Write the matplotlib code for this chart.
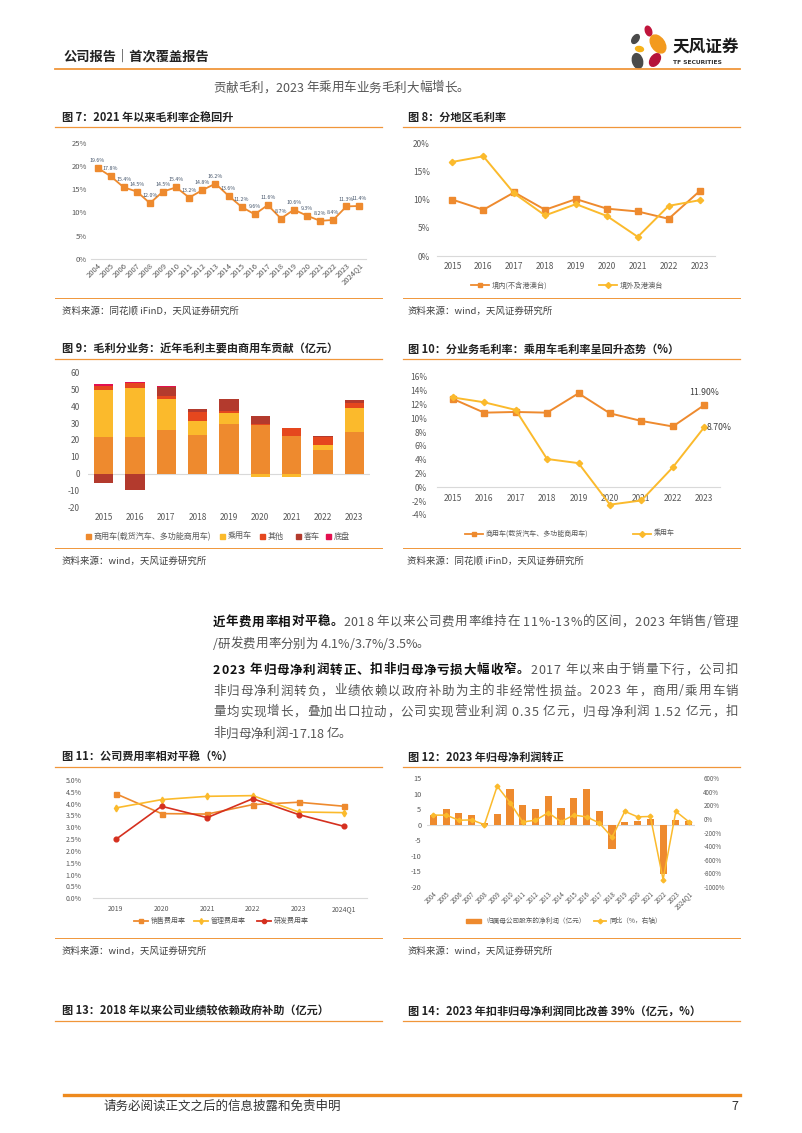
import matplotlib
matplotlib.use('Agg')
import matplotlib.pyplot as plt
import numpy as np
from matplotlib.lines import Line2D
from matplotlib.patches import Ellipse, Rectangle

plt.rcParams['font.family'] = ['Noto Sans CJK SC', 'DejaVu Sans']
plt.rcParams['axes.unicode_minus'] = False

# ---------------- data ----------------
f7_years = ['2004', '2005', '2006', '2007', '2008', '2009', '2010', '2011', '2012', '2013', '2014',
            '2015', '2016', '2017', '2018', '2019', '2020', '2021', '2022', '2023', '2024Q1']
f7_margin = [19.6, 17.8, 15.4, 14.5, 12.0, 14.5, 15.4, 13.2, 14.8, 16.2, 13.6,
             11.2, 9.6, 11.6, 8.7, 10.6, 9.3, 8.2, 8.4, 11.3, 11.4]
f7_yticks = [0, 5, 10, 15, 20, 25]

f8_years = ['2015', '2016', '2017', '2018', '2019', '2020', '2021', '2022', '2023']
f8_domestic = [10.0, 8.2, 11.3, 8.2, 10.1, 8.4, 7.9, 6.6, 11.5]
f8_overseas = [16.7, 17.7, 11.1, 7.2, 9.2, 7.1, 3.4, 8.9, 9.9]
f8_labels = ['境内(不含港澳台)', '境外及港澳台']
f8_yticks = [0, 5, 10, 15, 20]

f9_years = ['2015', '2016', '2017', '2018', '2019', '2020', '2021', '2022', '2023']
f9_labels = ['商用车(载货汽车、多功能商用车)', '乘用车', '其他', '客车', '底盘']
f9_commercial = [21.6, 21.6, 26.2, 22.8, 29.5, 28.9, 22.2, 14.2, 24.8]
f9_passenger = [28.2, 29.2, 17.9, 8.3, 6.5, -2.0, -1.8, 2.7, 14.0]
f9_other = [2.4, 2.7, 1.8, 5.5, 1.0, 0.4, 4.8, 5.0, 3.0]
f9_bus = [-5.5, -9.3, 5.7, 1.6, 7.0, 4.8, 0.3, 0.3, 1.7]
f9_chassis = [1.0, 0.5, 0.3, 0.1, 0.1, 0.0, 0.0, 0.0, 0.0]
f9_yticks = [-20, -10, 0, 10, 20, 30, 40, 50, 60]

f10_years = ['2015', '2016', '2017', '2018', '2019', '2020', '2021', '2022', '2023']
f10_labels = ['商用车(载货汽车、多功能商用车)', '乘用车']
f10_commercial = [12.8, 10.8, 10.9, 10.8, 13.6, 10.7, 9.6, 8.8, 11.9]
f10_passenger = [13.0, 12.3, 11.2, 4.1, 3.5, -2.5, -1.9, 2.9, 8.7]
f10_yticks = [-4, -2, 0, 2, 4, 6, 8, 10, 12, 14, 16]

f11_years = ['2019', '2020', '2021', '2022', '2023', '2024Q1']
f11_labels = ['销售费用率', '管理费用率', '研发费用率']
f11_sales = [4.42, 3.58, 3.56, 3.96, 4.06, 3.89]
f11_admin = [3.82, 4.17, 4.31, 4.34, 3.65, 3.62]
f11_rd = [2.49, 3.89, 3.41, 4.21, 3.54, 3.04]
f11_yticks = [0.0, 0.5, 1.0, 1.5, 2.0, 2.5, 3.0, 3.5, 4.0, 4.5, 5.0]

f12_years = ['2004', '2005', '2006', '2007', '2008', '2009', '2010', '2011', '2012', '2013', '2014',
             '2015', '2016', '2017', '2018', '2019', '2020', '2021', '2022', '2023', '2024Q1']
f12_labels = ['归属母公司股东的净利润（亿元）', '同比（%，右轴）']
f12_profit = [3.2, 5.0, 3.8, 3.2, 0.4, 3.4, 11.6, 6.2, 4.9, 9.1, 5.3,
              8.6, 11.6, 4.3, -7.7, 1.0, 1.3, 1.9, -15.8, 1.5, 1.1]
f12_yoy = [55, 55, -20, -15, -85, 480, 240, -45, -20, 90, -40,
           55, 30, -60, -270, 110, 30, 35, -890, 110, -40]
f12_yticks = [-20, -15, -10, -5, 0, 5, 10, 15]
f12_y2ticks = [-1000, -800, -600, -400, -200, 0, 200, 400, 600]

# ---------------- style ----------------
ORANGE = '#EE8A2E'
YELLOW = '#FBBA2C'
RED = '#E5471E'
DARKRED = '#B33A2D'
PINK = '#E3104F'
RD_RED = '#D5301F'
LINE_OR = '#F0963A'
TICK = '#595959'
GRID0 = '#D9D9D9'

W, H = 802, 1133
fig = plt.figure(figsize=(W / 100, H / 100), dpi=100)
fig.patch.set_facecolor('white')


def fx(x):
    return x / W


def fy(y):
    return 1 - y / H


def ax_px(x0, y0, x1, y1):
    return fig.add_axes([fx(x0), fy(y1), (x1 - x0) / W, (y1 - y0) / H])


def txt(x, y, s, **kw):
    return fig.text(fx(x), fy(y), s, **kw)


def hline(x0, x1, y, color=LINE_OR, lw=0.9):
    fig.add_artist(Line2D([fx(x0), fx(x1)], [fy(y), fy(y)], color=color, lw=lw))


def style(ax, fs):
    for s in ['top', 'right', 'left']:
        ax.spines[s].set_visible(False)
    ax.spines['bottom'].set_color(GRID0)
    ax.spines['bottom'].set_linewidth(0.8)
    ax.tick_params(length=0, labelsize=fs, colors=TICK)
    ax.set_facecolor('none')


def leg_line(x, y, color, marker, label, fs, length=18, ms=3.5):
    fig.add_artist(Line2D([fx(x), fx(x + length)], [fy(y)] * 2, color=color, lw=1.3))
    fig.add_artist(Line2D([fx(x + length / 2)], [fy(y)], color=color, marker=marker, ms=ms, lw=0))
    txt(x + length + 3, y, label, fontsize=fs, va='center', ha='left', color=TICK)


def leg_box(x, y, color, label, fs, w=5, h=5, gap=3):
    fig.add_artist(Rectangle((fx(x), fy(y + h / 2)), w / W, h / H, color=color,
                             transform=fig.transFigure))
    txt(x + w + gap, y, label, fontsize=fs, va='center', ha='left', color=TICK)


# ---------------- page furniture ----------------
renderer = fig.canvas.get_renderer()
_wc = {}


def char_w(c, size, bold):
    key = (c, size, bold)
    if key not in _wc:
        fw = 'bold' if bold else 'normal'
        t1 = fig.text(0, 0, 'x' + c + 'x', fontsize=size, fontweight=fw)
        t2 = fig.text(0, 0, 'xx', fontsize=size, fontweight=fw)
        w = t1.get_window_extent(renderer).width - t2.get_window_extent(renderer).width
        t1.remove()
        t2.remove()
        _wc[key] = w
    return _wc[key]


def rich_line(x, yb, runs, size, target=None):
    chars = [(c, b, col) for s, b, col in runs for c in s]
    widths = [char_w(c, size, b) for c, b, col in chars]
    extra = 0.0
    if target is not None and len(chars) > 1:
        extra = (target - sum(widths)) / (len(chars) - 1)
    cx = x
    for (c, b, col), w in zip(chars, widths):
        if c != ' ':
            fig.text(fx(cx), fy(yb), c, fontsize=size, fontweight='bold' if b else 'normal',
                     color=col, va='baseline', ha='left')
        cx += w + extra


BODY = '#555555'
BLK = '#111111'

# header
txt(64, 57, '公司报告｜首次覆盖报告', fontsize=9.5, fontweight='bold', color='#222222', va='center')
hline(55, 740, 68.5, color=LINE_OR, lw=1.3)

# logo
lax = ax_px(626, 24, 672, 70)
lax.set_xlim(626, 672)
lax.set_ylim(70, 24)
lax.axis('off')
for (cx_, cy_, w_, h_, ang, col) in [
        (635.5, 39, 6, 10, 35, '#4A4A4A'),
        (648.5, 31, 6, 10, -20, '#C0143C'),
        (658, 44, 13, 20, -35, '#F39A1E'),
        (639.5, 49, 8, 5, 10, '#F6B21A'),
        (655, 60, 9, 14, 35, '#B5123A'),
        (637.5, 61, 10, 15, -15, '#4A4A4A')]:
    lax.add_patch(Ellipse((cx_, cy_), w_, h_, angle=ang, color=col))
txt(672, 47, '天风证券', fontsize=12, fontweight='bold', color='#1A1A1A', va='center')
txt(673, 62, 'TF SECURITIES', fontsize=4.3, fontweight='bold', color='#333333', va='center',
    family=['DejaVu Sans'])

# body text
BS = 9
rich_line(213, 91.5, [('贡献毛利，2023 年乘用车业务毛利大幅增长。', False, BODY)], BS)
rich_line(213, 625.5, [('近年费用率相对平稳。', True, BLK),
                       ('2018 年以来公司费用率维持在 11%-13%的区间，2023 年销售/管理', False, BODY)],
          BS, target=525)
rich_line(213, 647.5, [('/研发费用率分别为 4.1%/3.7%/3.5%。', False, BODY)], BS)
rich_line(213, 673.5, [('2023 年归母净利润转正、扣非归母净亏损大幅收窄。', True, BLK),
                       ('2017 年以来由于销量下行，公司扣', False, BODY)], BS, target=525)
rich_line(213, 694.5, [('非归母净利润转负，业绩依赖以政府补助为主的非经常性损益。2023 年，商用/乘用车销', False, BODY)],
          BS, target=525)
rich_line(213, 715.5, [('量均实现增长，叠加出口拉动，公司实现营业利润 0.35 亿元，归母净利润 1.52 亿元，扣', False, BODY)],
          BS, target=525)
rich_line(213, 737.5, [('非归母净利润-17.18 亿。', False, BODY)], BS)

# figure titles, rules and sources
TFS = 8
titles = [
    (62, 117, '图 7：2021 年以来毛利率企稳回升'),
    (408, 117, '图 8：分地区毛利率'),
    (62, 349, '图 9：毛利分业务：近年毛利主要由商用车贡献（亿元）'),
    (408, 349, '图 10：分业务毛利率：乘用车毛利率呈回升态势（%）'),
    (62, 757, '图 11：公司费用率相对平稳（%）'),
    (408, 757, '图 12：2023 年归母净利润转正'),
    (62, 1011, '图 13：2018 年以来公司业绩较依赖政府补助（亿元）'),
    (408, 1011, '图 14：2023 年扣非归母净利润同比改善 39%（亿元，%）'),
]
for x, y, s in titles:
    txt(x, y, s, fontsize=TFS, fontweight='bold', color='#222222', va='center')
for y in [127, 359, 767, 1021]:
    hline(55, 382, y)
    hline(403, 740, y)
for y in [298, 548, 938]:
    hline(55, 382, y, lw=0.7)
    hline(403, 740, y, lw=0.7)
sources = [
    (62, 311, '资料来源：同花顺 iFinD，天风证券研究所'),
    (407, 311, '资料来源：wind，天风证券研究所'),
    (62, 561, '资料来源：wind，天风证券研究所'),
    (407, 561, '资料来源：同花顺 iFinD，天风证券研究所'),
    (62, 951, '资料来源：wind，天风证券研究所'),
    (407, 951, '资料来源：wind，天风证券研究所'),
]
for x, y, s in sources:
    txt(x, y, s, fontsize=6.8, color='#404040', va='center')

# footer
hline(64, 740, 1095, color='#EE8A1E', lw=2.4)
txt(103, 1106, '请务必阅读正文之后的信息披露和免责申明', fontsize=9, color='#333333', va='center')
txt(738, 1106, '7', fontsize=9, color='#333333', va='center', ha='right')

# ---------------- Figure 7 ----------------
ax7 = ax_px(91, 142.7, 366, 259)
x7 = np.arange(len(f7_years))
ax7.plot(x7, f7_margin, color=ORANGE, lw=1.3, marker='s', ms=4.3, zorder=3)
for xi, v in zip(x7, f7_margin):
    ax7.annotate(f'{v:.1f}%', (xi, v), xytext=(0, 3.5), textcoords='offset points',
                 ha='center', va='bottom', fontsize=3.8, color='#44546A')
ax7.set_xlim(-0.5, len(f7_years) - 0.5)
ax7.set_ylim(0, 25)
ax7.set_yticks(f7_yticks)
ax7.set_yticklabels([f'{t}%' for t in f7_yticks])
ax7.set_xticks(x7)
ax7.set_xticklabels(f7_years, rotation=45, ha='right', rotation_mode='anchor')
style(ax7, 5.5)
ax7.tick_params(axis='x', pad=2)
ax7.tick_params(axis='y', pad=3)

# ---------------- Figure 8 ----------------
ax8 = ax_px(437, 143.3, 715, 256)
x8 = np.arange(len(f8_years))
ax8.plot(x8, f8_domestic, color=ORANGE, lw=1.4, marker='s', ms=4.2, zorder=3)
ax8.plot(x8, f8_overseas, color=YELLOW, lw=1.4, marker='D', ms=3.2, zorder=3)
ax8.set_xlim(-0.5, len(f8_years) - 0.5)
ax8.set_ylim(0, 20)
ax8.set_yticks(f8_yticks)
ax8.set_yticklabels([f'{t}%' for t in f8_yticks])
ax8.set_xticks(x8)
ax8.set_xticklabels(f8_years)
style(ax8, 6)
ax8.tick_params(axis='x', pad=4)
ax8.tick_params(axis='y', pad=5)
leg_line(471, 285.5, ORANGE, 's', f8_labels[0], 5.2)
leg_line(599, 285.5, YELLOW, 'D', f8_labels[1], 5.2, ms=3)

# ---------------- Figure 9 ----------------
ax9 = ax_px(88, 372.3, 370, 507.7)
x9 = np.arange(len(f9_years))
series9 = [f9_commercial, f9_passenger, f9_other, f9_bus, f9_chassis]
colors9 = [ORANGE, YELLOW, RED, DARKRED, PINK]
pos = np.zeros(len(x9))
neg = np.zeros(len(x9))
for vals, col in zip(series9, colors9):
    v = np.array(vals, dtype=float)
    bottom = np.where(v >= 0, pos, neg)
    ax9.bar(x9, v, bottom=bottom, width=0.62, color=col, zorder=2)
    pos = pos + np.where(v >= 0, v, 0)
    neg = neg + np.where(v < 0, v, 0)
ax9.axhline(0, color=GRID0, lw=0.8, zorder=1)
ax9.set_xlim(-0.5, len(f9_years) - 0.5)
ax9.set_ylim(-20, 60)
ax9.set_yticks(f9_yticks)
ax9.set_xticks(x9)
ax9.set_xticklabels(f9_years)
style(ax9, 6)
ax9.spines['bottom'].set_visible(False)
ax9.tick_params(axis='x', pad=4)
ax9.tick_params(axis='y', pad=6)
leg_x9 = [86, 220, 260, 296, 326]
for lx, lab, col in zip(leg_x9, f9_labels, colors9):
    leg_box(lx, 536.5, col, lab, 5.8, w=4.5, h=4.5)

# ---------------- Figure 10 ----------------
ax10 = ax_px(437, 376.7, 720, 515)
x10 = np.arange(len(f10_years))
ax10.plot(x10, f10_commercial, color=ORANGE, lw=1.4, marker='s', ms=4.2, zorder=3)
ax10.plot(x10, f10_passenger, color=YELLOW, lw=1.4, marker='D', ms=3.2, zorder=3)
ax10.annotate(f'{f10_commercial[-1]:.2f}%', (x10[-1], f10_commercial[-1]), xytext=(0, 6),
              textcoords='offset points', ha='center', va='bottom', fontsize=6.3, color='#404040')
ax10.annotate(f'{f10_passenger[-1]:.2f}%', (x10[-1], f10_passenger[-1]), xytext=(2, 0),
              textcoords='offset points', ha='left', va='center', fontsize=6.3, color='#404040')
ax10.set_xlim(-0.5, len(f10_years) - 0.5)
ax10.set_ylim(-4, 16)
ax10.set_yticks(f10_yticks)
ax10.set_yticklabels([f'{t}%' for t in f10_yticks])
ax10.set_xticks(x10)
ax10.set_xticklabels(f10_years)
style(ax10, 6)
ax10.spines['bottom'].set_position(('data', 0))
ax10.tick_params(axis='x', pad=5)
ax10.tick_params(axis='y', pad=7)
leg_line(465, 533.5, ORANGE, 's', f10_labels[0], 5.0)
leg_line(633, 533.5, YELLOW, 'D', f10_labels[1], 5.0, ms=3)

# ---------------- Figure 11 ----------------
ax11 = ax_px(93, 780, 367, 898.3)
x11 = np.arange(len(f11_years))
ax11.plot(x11, f11_sales, color=ORANGE, lw=1.2, marker='s', ms=3.6, zorder=3)
ax11.plot(x11, f11_admin, color=YELLOW, lw=1.2, marker='d', ms=3.4, zorder=3)
ax11.plot(x11, f11_rd, color=RD_RED, lw=1.2, marker='o', ms=3.4, zorder=3)
ax11.set_xlim(-0.5, len(f11_years) - 0.5)
ax11.set_ylim(0, 5)
ax11.set_yticks(f11_yticks)
ax11.set_yticklabels([f'{t:.1f}%' for t in f11_yticks])
ax11.set_xticks(x11)
ax11.set_xticklabels(f11_years)
style(ax11, 5)
ax11.tick_params(axis='x', pad=5)
ax11.tick_params(axis='y', pad=8)
leg_line(134, 921, ORANGE, 's', f11_labels[0], 5.0, length=14, ms=3)
leg_line(194, 921, YELLOW, 'd', f11_labels[1], 5.0, length=14, ms=3)
leg_line(257, 921, RD_RED, 'o', f11_labels[2], 5.0, length=14, ms=3)

# ---------------- Figure 12 ----------------
ax12 = ax_px(427, 778, 695, 887)
x12 = np.arange(len(f12_years))
ax12.bar(x12, f12_profit, width=0.56, color=ORANGE, zorder=2)
ax12.axhline(0, color=GRID0, lw=0.8, zorder=1)
ax12.set_xlim(-0.5, len(f12_years) - 0.5)
ax12.set_ylim(-20, 15)
ax12.set_yticks(f12_yticks)
ax12.set_xticks(x12)
ax12.set_xticklabels(f12_years, rotation=45, ha='right', rotation_mode='anchor')
style(ax12, 5.3)
ax12.spines['bottom'].set_visible(False)
ax12.tick_params(axis='x', pad=2, labelsize=4.5)
ax12.tick_params(axis='y', pad=4)
ax12b = ax12.twinx()
ax12b.plot(x12, f12_yoy, color=YELLOW, lw=1.1, marker='D', ms=2.4, zorder=4)
ax12b.set_ylim(-1000, 600)
ax12b.set_yticks(f12_y2ticks)
ax12b.set_yticklabels([f'{t}%' for t in f12_y2ticks])
for s in ['top', 'right', 'left', 'bottom']:
    ax12b.spines[s].set_visible(False)
ax12b.tick_params(length=0, labelsize=4.5, colors=TICK, pad=6)
leg_box(466, 921, ORANGE, f12_labels[0], 4.8, w=15, h=4.5, gap=5)
leg_line(594, 921, YELLOW, 'D', f12_labels[1], 4.8, length=12, ms=2.4)

fig.savefig('out.png', dpi=100, facecolor='white')
